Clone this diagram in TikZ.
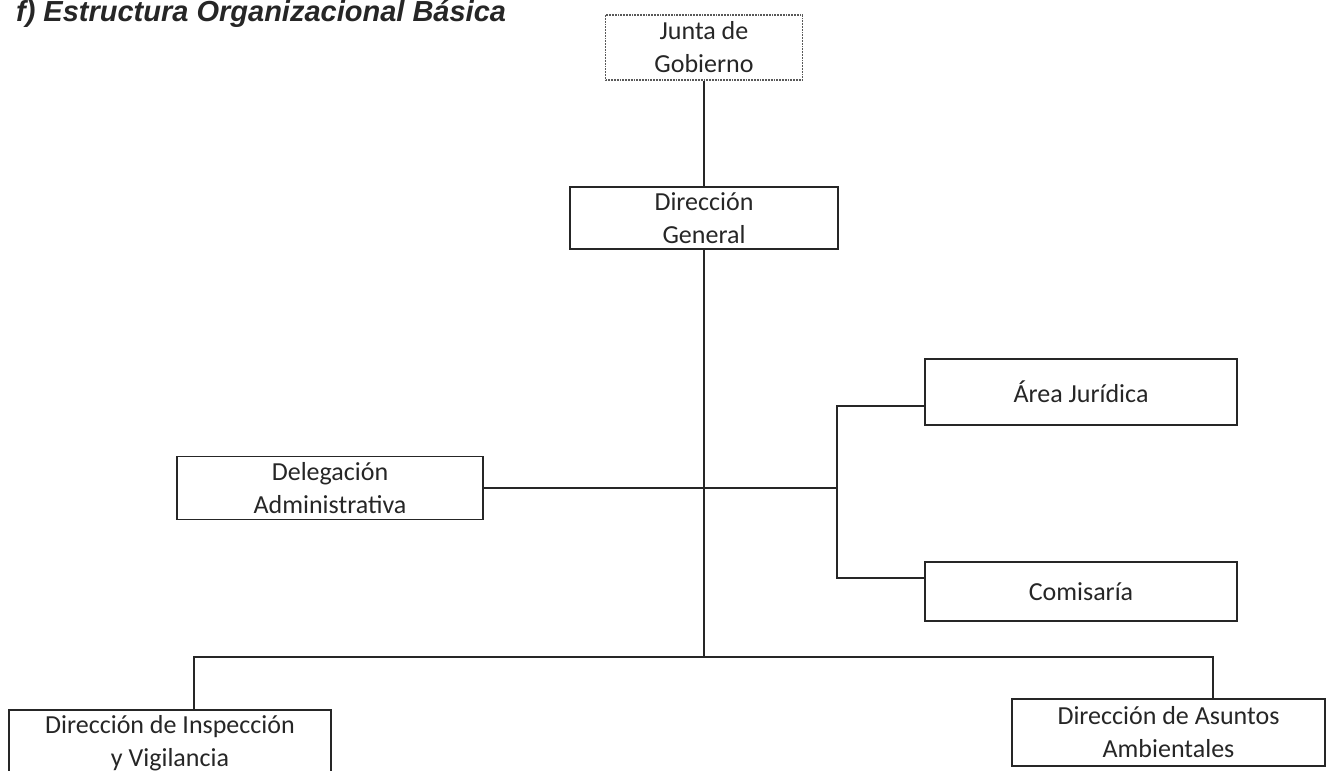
\documentclass[tikz,border=0pt]{standalone}
\usepackage{fontspec}
\setmainfont{Carlito}
\newfontfamily\titlefont{Liberation Sans}

\begin{document}
\begin{tikzpicture}[x=1pt,y=-1pt,line width=1.6pt,draw=black!85,
  unit/.style={draw,line width=1.8pt,text=black!85,align=center,inner sep=0pt,font=\fontsize{26}{33}\selectfont}]
\clip (0,0) rectangle (1328,771);
\node[anchor=base west,text=black!85,font={\titlefont\bfseries\itshape\fontsize{29}{35}\selectfont}] (titulo) at (12,21.5) {f) Estructura Organizacional B\'asica};
\node[unit,densely dotted,draw=black!65,line width=1.5pt,minimum width=197pt,minimum height=65pt] (junta) at (704,47.5) {Junta de\\Gobierno};
\node[unit,minimum width=268pt,minimum height=62pt] (dirgen) at (704,218) {Direcci\'on\\General};
\node[unit,minimum width=306pt,minimum height=63pt] (deleg) at (330,488) {Delegaci\'on\\Administrativa};
\node[unit,minimum width=312pt,minimum height=66pt] (juridica) at (1081,392) {\'Area Jur\'idica};
\node[unit,minimum width=312pt,minimum height=59pt] (comisaria) at (1081,591.5) {Comisar\'ia};
\node[unit,minimum width=322pt,minimum height=67pt] (dinsp) at (170,743.5) {Direcci\'on de Inspecci\'on\\y Vigilancia};
\node[unit,minimum width=313pt,minimum height=67pt] (dasunt) at (1168.5,732.5) {Direcci\'on de Asuntos\\Ambientales};
\coordinate (mid) at (837,488);
\coordinate (jt) at (837,406);
\coordinate (ct) at (837,578);
\coordinate (bl) at (194,657);
\coordinate (br) at (1213,657);
\draw (junta.south) -- (dirgen.north);
\draw (dirgen.south) -- (dirgen.south |- bl);
\draw (deleg.east) -- (mid);
\draw (jt -| juridica.west) -- (jt) -- (ct) -- (ct -| comisaria.west);
\draw (bl |- dinsp.north) -- (bl) -- (br) -- (br |- dasunt.north);
\end{tikzpicture}
\end{document}
